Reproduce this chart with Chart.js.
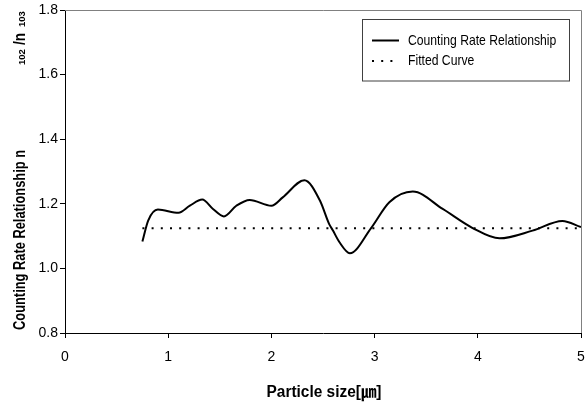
<!DOCTYPE html>
<html><head><meta charset="utf-8">
<script src="https://cdn.jsdelivr.net/npm/chart.js@4.4.0/dist/chart.umd.min.js"></script>
<style>html,body{margin:0;padding:0;background:#fff}#wrap{width:586px;height:404px;position:relative}canvas{display:block}</style>
</head><body><div id="wrap"><canvas id="c" width="586" height="404"></canvas></div>
<script>
// Data
const sizes = [0.75, 0.806, 0.90, 1.10, 1.21, 1.33, 1.434, 1.54, 1.66, 1.79, 2.00, 2.11, 2.32, 2.47, 2.56, 2.595, 2.66, 2.76, 2.966, 3.143, 3.37, 3.66, 3.95, 4.21, 4.53, 4.82, 5.00];
const rates = [1.083, 1.148, 1.182, 1.172, 1.194, 1.213, 1.184, 1.161, 1.194, 1.212, 1.194, 1.22, 1.273, 1.21, 1.137, 1.118, 1.081, 1.047, 1.125, 1.205, 1.238, 1.184, 1.125, 1.093, 1.117, 1.147, 1.128];
const fitSizes = [0.75, 5.0];
const fitRates = [1.124, 1.124];
const xTicks = [0, 1, 2, 3, 4, 5];
const yTicks = [0.8, 1.0, 1.2, 1.4, 1.6, 1.8];
const seriesLabels = ['Counting Rate Relationship', 'Fitted Curve'];
const xTitle = 'Particle size[\u339B]';
const yTitleMain = 'Counting Rate Relationship n';

const FONT = '"Liberation Sans", Arial, "Noto Sans CJK JP", sans-serif';

function condText(ctx, text, x, y, scaleX) {
  ctx.save();
  ctx.translate(x, y);
  ctx.scale(scaleX, 1);
  ctx.fillText(text, 0, 0);
  ctx.restore();
}

const deco = {
  id: 'deco',
  afterDraw(chart) {
    const ctx = chart.ctx;
    const a = chart.chartArea;
    ctx.save();
    // top and right frame
    ctx.strokeStyle = '#808080';
    ctx.lineWidth = 1;
    ctx.beginPath();
    ctx.moveTo(a.left, Math.round(a.top) + 0.5);
    ctx.lineTo(Math.round(a.right) + 0.5, Math.round(a.top) + 0.5);
    ctx.lineTo(Math.round(a.right) + 0.5, a.bottom);
    ctx.stroke();

    // legend
    const lx = 362.5, ly = 19.5, lw = 207, lh = 61.5;
    ctx.fillStyle = '#fff';
    ctx.fillRect(lx, ly, lw, lh);
    ctx.strokeStyle = '#404040';
    ctx.strokeRect(lx, ly, lw, lh);
    const ds = chart.data.datasets;
    const rows = [40.5, 61];
    ds.forEach((d, i) => {
      ctx.strokeStyle = d.borderColor;
      ctx.lineWidth = d.borderWidth;
      ctx.setLineDash(d.borderDash || []);
      ctx.beginPath();
      ctx.moveTo(372, rows[i]);
      ctx.lineTo(399, rows[i]);
      ctx.stroke();
      ctx.setLineDash([]);
      ctx.fillStyle = '#000';
      ctx.font = '14.5px ' + FONT;
      ctx.textBaseline = 'middle';
      ctx.textAlign = 'left';
      condText(ctx, d.label, 408, rows[i], 0.84);
    });

    // x title
    ctx.fillStyle = '#000';
    ctx.font = 'bold 16px ' + FONT;
    ctx.textBaseline = 'alphabetic';
    ctx.textAlign = 'left';
    const xw = ctx.measureText(xTitle).width;
    const target = 115;
    const sx = target / xw;
    condText(ctx, xTitle, (a.left + a.right) / 2 - target / 2 + 1, 397, sx);

    // y title (rotated)
    ctx.save();
    ctx.translate(25, 330);
    ctx.rotate(-Math.PI / 2);
    ctx.font = 'bold 16px ' + FONT;
    const mw = ctx.measureText(yTitleMain).width;
    condText(ctx, yTitleMain, 0, 0, 180 / mw);
    ctx.font = 'bold 9.5px ' + FONT;
    condText(ctx, '102', 330 - 65, 0, 1.0);
    ctx.font = 'bold 16px ' + FONT;
    condText(ctx, '/n', 330 - 45, 0, 0.85);
    ctx.font = 'bold 9.5px ' + FONT;
    condText(ctx, '103', 330 - 27, 0, 1.0);
    ctx.restore();

    ctx.restore();
  }
};

new Chart(document.getElementById('c'), {
  type: 'line',
  data: {
    datasets: [
      {
        label: seriesLabels[0],
        data: sizes.map((x, i) => ({ x: x, y: rates[i] })),
        borderColor: '#000',
        borderWidth: 2,
        pointRadius: 0,
        cubicInterpolationMode: 'monotone',
        fill: false
      },
      {
        label: seriesLabels[1],
        data: fitSizes.map((x, i) => ({ x: x, y: fitRates[i] })),
        borderColor: '#000',
        borderWidth: 2,
        borderDash: [2, 7.2],
        borderCapStyle: 'butt',
        pointRadius: 0,
        fill: false
      }
    ]
  },
  options: {
    responsive: false,
    animation: false,
    devicePixelRatio: 1,
    layout: { padding: { left: 0, right: 5, top: 10, bottom: 0 } },
    plugins: { legend: { display: false }, tooltip: { enabled: false } },
    scales: {
      x: {
        type: 'linear',
        min: xTicks[0],
        max: xTicks[xTicks.length - 1],
        afterBuildTicks(s) { s.ticks = xTicks.map(v => ({ value: v })); },
        ticks: { color: '#000', font: { family: FONT, size: 14 }, padding: 11, maxRotation: 0, autoSkip: false },
        grid: { display: true, drawOnChartArea: false, drawTicks: true, tickLength: 5, color: '#000' },
        border: { color: '#000', width: 1 },
        afterFit(s) { s.height = 71; s.paddingLeft = 0; s.paddingRight = 0; }
      },
      y: {
        type: 'linear',
        min: yTicks[0],
        max: yTicks[yTicks.length - 1],
        afterBuildTicks(s) { s.ticks = yTicks.map(v => ({ value: v })); },
        ticks: { color: '#000', font: { family: FONT, size: 14 }, padding: 2, callback: v => v.toFixed(1), autoSkip: false },
        grid: { display: true, drawOnChartArea: false, drawTicks: true, tickLength: 5, color: '#000' },
        border: { color: '#000', width: 1 },
        afterFit(s) { s.width = 65; s.paddingTop = 0; s.paddingBottom = 0; }
      }
    }
  },
  plugins: [deco]
});
</script>
</body></html>
